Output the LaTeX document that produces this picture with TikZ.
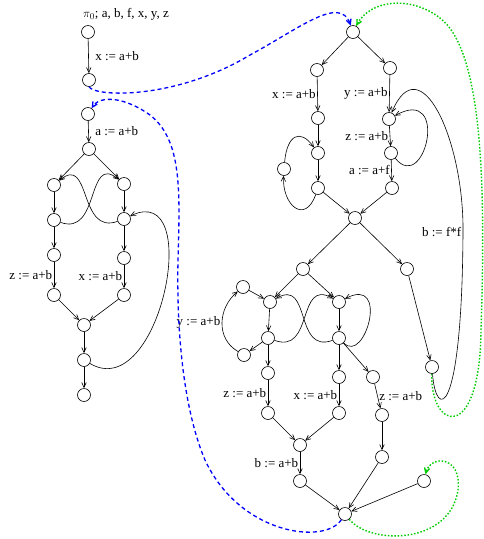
\documentclass[tikz,border=0pt]{standalone}
\usepackage{fontspec}
\setmainfont{Liberation Serif}
\usetikzlibrary{arrows.meta}

\begin{document}
\begin{tikzpicture}[
x=1pt, y=1pt,
state/.style={draw, circle, minimum size=13pt, inner sep=0pt, line width=0.6pt},
lbl/.style={font=\fontsize{13}{15}\selectfont, inner sep=1.5pt},
arrow/.style={-{Straight Barb[length=5pt,width=4.5pt]}, line width=0.6pt},
blueflow/.style={-{Straight Barb[length=5pt,width=5pt]}, blue, line width=1.3pt, dash pattern=on 4pt off 3pt},
greenflow/.style={-{Straight Barb[length=5pt,width=5pt]}, green!80!black, line width=1.4pt, dash pattern=on 1.5pt off 1.8pt}
]
\useasboundingbox (0,0) rectangle (484,-539);
\node[lbl, anchor=base west] (title) at (81.5,-17.5) {$\pi_0$; a, b, f, x, y, z};
\node[state] (l1) at (88,-32) {};
\node[state] (l2) at (89,-80) {};
\node[state] (l3) at (88,-114) {};
\node[state] (l4) at (89,-149) {};
\node[state] (l5) at (54,-185) {};
\node[state] (l6) at (124,-184) {};
\node[state] (l7) at (54,-220) {};
\node[state] (l8) at (124,-219) {};
\node[state] (l9) at (54,-255) {};
\node[state] (l10) at (124,-258) {};
\node[state] (l11) at (54,-295) {};
\node[state] (l12) at (124,-295) {};
\node[state] (l13) at (84,-325) {};
\node[state] (l14) at (84,-360) {};
\node[state] (l15) at (84,-395) {};
\node[state] (r1) at (353,-32) {};
\node[state] (r2) at (317,-70) {};
\node[state] (r3) at (390,-68) {};
\node[state] (r4) at (318,-118) {};
\node[state] (r5) at (389,-119) {};
\node[state] (r6) at (318,-153) {};
\node[state] (r7) at (391,-153) {};
\node[state] (ra) at (284,-169) {};
\node[state] (r8) at (318,-188) {};
\node[state] (r9) at (392,-188) {};
\node[state] (r10) at (355,-218) {};
\node[state] (r11) at (303,-269) {};
\node[state] (r12) at (407,-269) {};
\node[state] (r13) at (432,-367) {};
\node[state] (r16) at (243,-287) {};
\node[state] (r14) at (270,-302) {};
\node[state] (r15) at (339,-302) {};
\node[state] (r18) at (268,-338) {};
\node[state] (r19) at (339,-338) {};
\node[state] (r17) at (244,-355) {};
\node[state] (r20) at (268,-373) {};
\node[state] (r21) at (339,-377) {};
\node[state] (r22) at (373,-377) {};
\node[state] (r23) at (268,-413) {};
\node[state] (r24) at (339,-413) {};
\node[state] (r25) at (382,-415) {};
\node[state] (r26) at (300,-445) {};
\node[state] (r27) at (300,-481) {};
\node[state] (r28) at (382,-457) {};
\node[state] (r29) at (424,-481) {};
\node[state] (r30) at (345,-514) {};
% left procedure
\draw[arrow] (l1) -- node[lbl, right, xshift=5pt] {x := a+b} (l2);
\draw[arrow] (l3) -- node[lbl, right, xshift=5pt] {a := a+b} (l4);
\draw[arrow] (l4) -- (l5);
\draw[arrow] (l4) -- (l6);
\draw[arrow] (l5) -- (l7);
\draw[arrow] (l6) -- (l8);
\draw[arrow] (l7) to[out=-20, in=140, looseness=1.5] (l6);
\draw[arrow] (l8) to[out=200, in=40, looseness=1.5] (l5);
\draw[arrow] (l7) -- (l9);
\draw[arrow] (l8) -- (l10);
\draw[arrow] (l9) -- node[lbl, left] {z := a+b} (l11);
\draw[arrow] (l10) -- node[lbl, left] {x := a+b} (l12);
\draw[arrow] (l11) -- (l13);
\draw[arrow] (l12) -- (l13);
\draw[arrow] (l13) -- (l14);
\draw[arrow] (l14) -- (l15);
\draw[arrow] (l14) .. controls (160,-405) and (205,-180) .. (l8);
% right procedure
\draw[arrow] (r1) -- (r2);
\draw[arrow] (r1) -- (r3);
\draw[arrow] (r2) -- node[lbl, left] {x := a+b} (r4);
\draw[arrow] (r3) -- node[lbl, left] {y := a+b} (r5);
\draw[arrow] (r4) -- (r6);
\draw[arrow] (r5) -- node[lbl, left] {z := a+b} (r7);
\draw[arrow] (r6) -- (r8);
\draw[arrow] (r7) -- node[lbl, left] {a := a+f} (r9);
\draw[arrow] (r8) .. controls (305,-225) and (282,-205) .. (ra);
\draw[arrow] (ra) .. controls (287,-135) and (300,-128) .. (r6);
\draw[arrow] (r7) .. controls (425,-195) and (450,-85) .. (r5);
\draw[arrow] (r8) -- (r10);
\draw[arrow] (r9) -- (r10);
\draw[arrow] (r10) -- (r11);
\draw[arrow] (r10) -- (r12);
\draw[arrow] (r12) -- (r13);
\draw[arrow] (r13) .. controls (436,-420) and (462,-420) .. (463,-232) node[lbl, left] {b := f*f}
  .. controls (464,-140) and (420,-45) .. (r5);
\draw[arrow] (r11) -- (r14);
\draw[arrow] (r11) -- (r15);
\draw[arrow] (r16) -- (r14);
\draw[arrow] (r18) -- (r17);
\draw[arrow] (r17) to[out=150, in=-140, looseness=1.1] node[lbl, left] {y := a+b} (r16);
\draw[arrow] (r14) -- (r18);
\draw[arrow] (r15) -- (r19);
\draw[arrow] (r18) to[out=-20, in=150, looseness=1.5] (r15);
\draw[arrow] (r19) to[out=200, in=30, looseness=1.5] (r14);
\draw[arrow] (r19) .. controls (365,-365) and (390,-275) .. (r15);
\draw[arrow] (r18) -- (r20);
\draw[arrow] (r19) -- (r21);
\draw[arrow] (r19) -- (r22);
\draw[arrow] (r20) -- node[lbl, left] {z := a+b} (r23);
\draw[arrow] (r21) -- node[lbl, left] {x := a+b} (r24);
\draw[arrow] (r22) -- node[lbl, right] {z := a+b} (r25);
\draw[arrow] (r23) -- (r26);
\draw[arrow] (r24) -- (r26);
\draw[arrow] (r26) -- node[lbl, left] {b := a+b} (r27);
\draw[arrow] (r25) -- (r28);
\draw[arrow] (r27) -- (r30);
\draw[arrow] (r28) -- (r30);
\draw[arrow] (r29) -- (r30);
% call and return edges
\draw[blueflow] (l2.south) .. controls (95,-97) and (175,-100) .. (250,-55)
  .. controls (300,-28) and (340,5) .. (r1);
\draw[blueflow] (r30) .. controls (325,-545) and (240,-535) .. (205,-460)
  .. controls (190,-425) and (176,-360) .. (178,-260)
  .. controls (180,-190) and (182,-140) .. (150,-115)
  .. controls (125,-97) and (100,-95) .. (l3);
\draw[greenflow] (r13) .. controls (430,-430) and (480,-445) .. (481,-330)
  .. controls (486,-180) and (482,-50) .. (440,-18)
  .. controls (410,5) and (370,0) .. (r1);
\draw[greenflow] (r30) .. controls (370,-545) and (450,-545) .. (458,-490)
  .. controls (462,-455) and (430,-455) .. (r29);
\end{tikzpicture}
\end{document}
